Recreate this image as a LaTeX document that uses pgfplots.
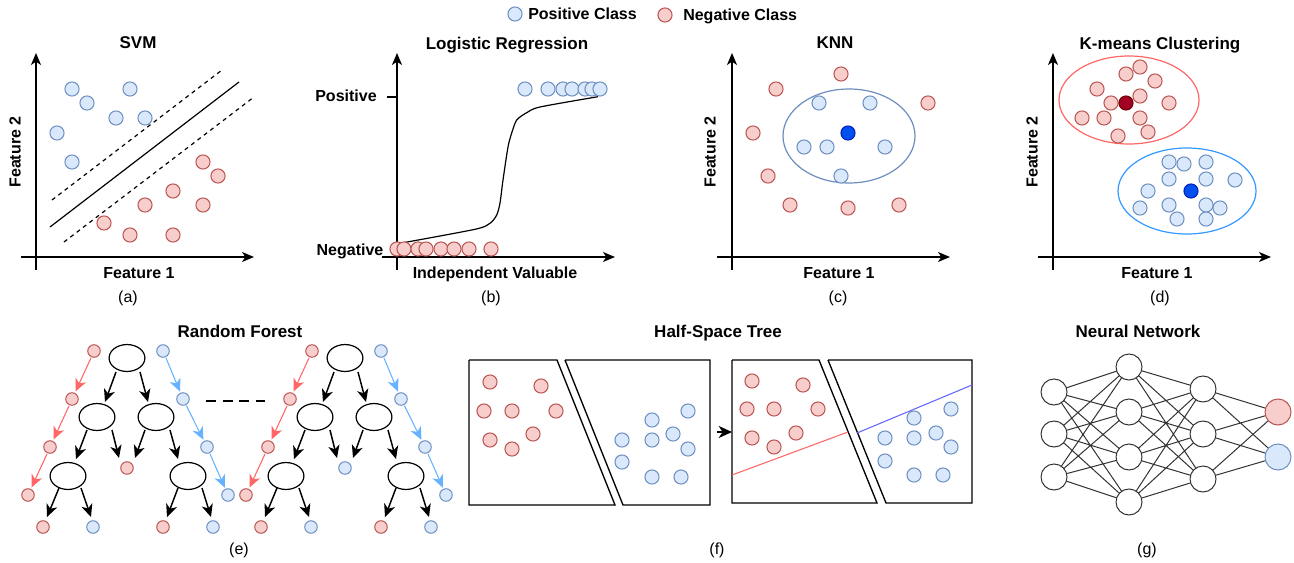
\documentclass[border=0pt]{standalone}
\usepackage{fontspec}
\setmainfont{Liberation Sans}
\usepackage{pgfplots}
\usepackage{pgfplotstable}
\pgfplotsset{compat=1.18}
\usetikzlibrary{arrows.meta}
\definecolor{rfill}{HTML}{F8CECC}
\definecolor{rdraw}{HTML}{B85450}
\definecolor{bfill}{HTML}{DAE8FC}
\definecolor{bdraw}{HTML}{6C8EBF}
\definecolor{dred}{HTML}{A20025}
\definecolor{dredd}{HTML}{6F0000}
\definecolor{dblue}{HTML}{0050EF}
\definecolor{dblued}{HTML}{001DBC}
\definecolor{lred}{HTML}{FF6666}
\definecolor{lblue}{HTML}{66B2FF}
\definecolor{kblue}{HTML}{3399FF}
\definecolor{hsblue}{HTML}{6666FF}
\definecolor{gr}{HTML}{333333}
\newcommand\tf{\fontsize{12.75}{15}\selectfont\bfseries}
\newcommand\lf{\fontsize{12}{14}\selectfont\bfseries}
\newcommand\cf{\fontsize{12}{14}\selectfont}
\tikzset{txt/.style={inner sep=0pt, text depth=0pt, anchor=center}}
\pgfplotsset{
  pos/.style={only marks, mark=*, mark size=5.3pt, mark options={fill=bfill, draw=bdraw, line width=0.75pt}},
  neg/.style={only marks, mark=*, mark size=5.3pt, mark options={fill=rfill, draw=rdraw, line width=0.75pt}},
  posS/.style={only marks, mark=*, mark size=4.7pt, mark options={fill=bfill, draw=bdraw, line width=0.75pt}},
  negS/.style={only marks, mark=*, mark size=4.7pt, mark options={fill=rfill, draw=rdraw, line width=0.75pt}},
  axarr/.style={black, line width=1pt, -{Stealth[length=9pt,width=7.5pt,inset=2.5pt]}},
  tnode/.style={only marks, mark=*, mark size=10.1pt, mark options={xscale=1.33, fill=white, draw=black, line width=0.9pt}},
  nnode/.style={only marks, mark=*, mark size=9.75pt, mark options={fill=white, draw=gr, line width=0.75pt}},
}
% one arrow: colour, width, x1, y1, x2, y2
\newcommand{\arr}[6]{\addplot[#1, line width=#2, -{Stealth[length=9.5pt,width=8.5pt,inset=2.8pt]}] coordinates {(#3,#4) (#5,#6)};}
\pgfplotstableread{
x y
127 358
97 417
156 417
68 476
188 476
345 358
315 417
374 417
286 476
406 476
}\rfnodes
\pgfplotstableread{
x y
94 351
72 399
50 447
28 495
43 527
163 527
127 468
312 351
290 399
268 447
246 495
261 527
381 527
}\rfredleaf
\pgfplotstableread{
x y
163 351
183 399
207 447
228 495
93 527
213 527
381 351
401 399
425 447
446 495
311 527
431 527
345 468
}\rfblueleaf
\begin{document}
\begin{tikzpicture}
\begin{axis}[x=0.75pt, y=0.75pt, y dir=reverse, xmin=0, xmax=1294, ymin=0, ymax=563,
  hide axis, clip=false, unbounded coords=jump]

% ---------- legend ----------
\addplot[pos] coordinates {(515,14)};
\node[txt, anchor=west] at (axis cs:528,14) {\lf Positive Class};
\addplot[neg] coordinates {(665,15)};
\node[txt, anchor=west] at (axis cs:683,15) {\lf Negative Class};

% ---------- (a) SVM ----------
\node[txt] at (axis cs:138,43) {\tf SVM};
\addplot[axarr] coordinates {(36,270) (36,53)};
\addplot[axarr] coordinates {(21,257) (254,257)};
\addplot[black, line width=0.9pt] coordinates {(50,227) (239,82)};
\addplot[black, line width=0.9pt, dash pattern=on 3pt off 3pt] coordinates {(52,200) (222,70)};
\addplot[black, line width=0.9pt, dash pattern=on 3pt off 3pt] coordinates {(64,242) (254,97)};
\addplot[pos] coordinates {(72,89) (87,103) (130,89) (116,118) (145,118) (57,133) (72,162)};
\addplot[neg] coordinates {(203,162) (218,176) (173,191) (145,205) (203,205) (104,223) (130,235) (173,235)};
\node[txt] at (axis cs:139,273) {\lf Feature 1};
\node[txt, rotate=90] at (axis cs:15,152) {\lf Feature 2};
\node[txt] at (axis cs:128,297) {\cf (a)};

% ---------- (b) Logistic regression ----------
\node[txt] at (axis cs:507,43) {\tf Logistic Regression};
\addplot[axarr] coordinates {(397,270) (397,53)};
\addplot[axarr] coordinates {(382,257) (615,257)};
\addplot[black, line width=0.9pt] coordinates {(387,97) (397,97)};
\addplot[pos] coordinates {(525,89) (548,89) (563,89) (572,89) (585,89) (592,89) (600,89)};
\addplot[neg] coordinates {(397,249) (404,249) (418,249) (426,249) (441,249) (454,249) (469,249) (491,249)};
\addplot[black, line width=0.9pt, smooth, tension=0.45] coordinates {(400,243.3) (475,229.3) (490,223.3) (496.7,215) (500,203) (503,180) (508,147) (511.7,133) (516.7,120) (526.7,112.7) (540,107) (598,96.7)};
\node[txt] at (axis cs:346,96) {\lf Positive};
\node[txt] at (axis cs:350,250) {\lf Negative};
\node[txt] at (axis cs:495,273) {\lf Independent Valuable};
\node[txt] at (axis cs:491,297) {\cf (b)};

% ---------- (c) KNN ----------
\node[txt] at (axis cs:835,43) {\tf KNN};
\addplot[axarr] coordinates {(732,270) (732,53)};
\addplot[axarr] coordinates {(717,257) (950,257)};
\draw[bdraw, line width=0.9pt] (axis cs:849,136) ellipse [x radius=66, y radius=47];
\addplot[neg] coordinates {(841,74) (776,89) (928,103) (753,133) (768,176) (790,205) (848,208) (899,205)};
\addplot[pos] coordinates {(819,103) (870,103) (804,147) (827,147) (885,147) (841,176)};
\addplot[only marks, mark=*, mark size=5.3pt, mark options={fill=dblue, draw=dblued, line width=0.75pt}] coordinates {(848,133)};
\node[txt] at (axis cs:839,273) {\lf Feature 1};
\node[txt, rotate=90] at (axis cs:710,152) {\lf Feature 2};
\node[txt] at (axis cs:838,297) {\cf (c)};

% ---------- (d) K-means ----------
\node[txt] at (axis cs:1160,43) {\tf K-means Clustering};
\addplot[axarr] coordinates {(1053,270) (1053,53)};
\addplot[axarr] coordinates {(1038,257) (1271,257)};
\draw[lred, line width=0.9pt] (axis cs:1129,100) ellipse [x radius=70, y radius=44];
\draw[kblue, line width=0.9pt] (axis cs:1187,191) ellipse [x radius=69, y radius=43];
\addplot[neg] coordinates {(1140,67) (1126,74) (1155,81) (1097,89) (1140,96) (1111,103) (1169,103) (1082,118) (1104,118) (1140,118) (1148,132) (1118,136)};
\addplot[only marks, mark=*, mark size=5.3pt, mark options={fill=dred, draw=dredd, line width=0.75pt}] coordinates {(1126,103)};
\addplot[pos] coordinates {(1169,162) (1184,164) (1206,162) (1169,179) (1206,179) (1235,180) (1148,191) (1140,208) (1169,205) (1206,205) (1220,208) (1177,219) (1206,219)};
\addplot[only marks, mark=*, mark size=5.3pt, mark options={fill=dblue, draw=dblued, line width=0.75pt}] coordinates {(1191,191)};
\node[txt] at (axis cs:1157,273) {\lf Feature 1};
\node[txt, rotate=90] at (axis cs:1032,152) {\lf Feature 2};
\node[txt] at (axis cs:1160,297) {\cf (d)};

% ---------- (e) Random forest ----------
\node[txt] at (axis cs:240,331) {\tf Random Forest};
% tree 1
\arr{black}{1.1pt}{116}{372}{105}{402}
\arr{black}{1.1pt}{140}{372}{148}{402}
\arr{black}{1.1pt}{87}{430}{76}{459}
\arr{black}{1.1pt}{112}{430}{119}{458}
\arr{black}{1.1pt}{145}{430}{135}{458}
\arr{black}{1.1pt}{170}{430}{178}{459}
\arr{black}{1.1pt}{59}{488}{47}{517}
\arr{black}{1.1pt}{81}{488}{91}{517}
\arr{black}{1.1pt}{178}{488}{167}{517}
\arr{black}{1.1pt}{202}{488}{211}{517}
\arr{lred}{0.8pt}{91}{358}{75.5}{391.5}
\arr{lred}{0.8pt}{69}{406}{53.5}{439.5}
\arr{lred}{0.8pt}{47}{454}{31.5}{487.5}
\arr{lblue}{0.8pt}{166}{358}{180}{391.6}
\arr{lblue}{0.8pt}{186.4}{405.7}{203.4}{439.8}
\arr{lblue}{0.8pt}{210}{453.9}{224.8}{487.7}
% tree 2
\arr{black}{1.1pt}{334}{372}{323}{402}
\arr{black}{1.1pt}{358}{372}{366}{402}
\arr{black}{1.1pt}{305}{430}{294}{459}
\arr{black}{1.1pt}{330}{430}{337}{458}
\arr{black}{1.1pt}{363}{430}{353}{458}
\arr{black}{1.1pt}{388}{430}{396}{459}
\arr{black}{1.1pt}{277}{488}{265}{517}
\arr{black}{1.1pt}{299}{488}{309}{517}
\arr{black}{1.1pt}{396}{488}{385}{517}
\arr{black}{1.1pt}{420}{488}{429}{517}
\arr{lred}{0.8pt}{309}{358}{293.5}{391.5}
\arr{lred}{0.8pt}{287}{406}{271.5}{439.5}
\arr{lred}{0.8pt}{265}{454}{249.5}{487.5}
\arr{lblue}{0.8pt}{384}{358}{398}{391.6}
\arr{lblue}{0.8pt}{404.4}{405.7}{421.4}{439.8}
\arr{lblue}{0.8pt}{428}{453.9}{442.8}{487.7}
\addplot[tnode] table {\rfnodes};
\addplot[negS] table {\rfredleaf};
\addplot[posS] table {\rfblueleaf};
\addplot[black, line width=2pt, dash pattern=on 7.5pt off 5pt] coordinates {(206,401) (265,401)};
\node[txt] at (axis cs:239,549) {\cf (e)};

% ---------- (f) Half-space tree ----------
\node[txt] at (axis cs:718,331) {\tf Half-Space Tree};
\addplot[black, line width=1pt] coordinates {(469,360) (557,360) (615,505) (469,505) (469,360)};
\addplot[black, line width=1pt] coordinates {(565,360) (710,360) (710,505) (623,505) (565,360)};
\addplot[black, line width=1pt] coordinates {(732,360) (819,360) (877,503) (732,503) (732,360)};
\addplot[black, line width=1pt] coordinates {(828,360) (972,360) (972,503) (886,503) (828,360)};
\addplot[neg] coordinates {(490,382) (541,386) (484,411) (512,411) (556,411) (533,434) (490,440) (512,449)};
\addplot[pos] coordinates {(652,420) (688,411) (622,440) (652,440) (673,434) (688,449) (622,462) (652,477) (681,477)};
\addplot[black, line width=0.8pt, -{Stealth[length=10pt,width=9pt,inset=3pt]}] coordinates {(717,432) (732,432)};
\addplot[lred, line width=0.8pt] coordinates {(732,475) (848,432)};
\addplot[hsblue, line width=0.8pt] coordinates {(857,433) (972,385)};
\addplot[neg] coordinates {(752,381) (803,385) (747,409) (774,409) (818,409) (796,433) (752,438) (774,447)};
\addplot[pos] coordinates {(914,418) (951,409) (885,438) (914,438) (936,433) (951,447) (885,461) (914,475) (943,475)};
\node[txt] at (axis cs:717,549) {\cf (f)};

% ---------- (g) Neural network ----------
\node[txt] at (axis cs:1138,331) {\tf Neural Network};
\addplot[gr, line width=0.75pt] coordinates {
(1054,392)(1129,367) (nan,nan) (1054,392)(1129,412) (nan,nan) (1054,392)(1129,457) (nan,nan) (1054,392)(1129,502) (nan,nan)
(1054,434)(1129,367) (nan,nan) (1054,434)(1129,412) (nan,nan) (1054,434)(1129,457) (nan,nan) (1054,434)(1129,502) (nan,nan)
(1054,477)(1129,367) (nan,nan) (1054,477)(1129,412) (nan,nan) (1054,477)(1129,457) (nan,nan) (1054,477)(1129,502) (nan,nan)
(1129,367)(1203,389) (nan,nan) (1129,367)(1203,434) (nan,nan) (1129,367)(1203,479) (nan,nan)
(1129,412)(1203,389) (nan,nan) (1129,412)(1203,434) (nan,nan) (1129,412)(1203,479) (nan,nan)
(1129,457)(1203,389) (nan,nan) (1129,457)(1203,434) (nan,nan) (1129,457)(1203,479) (nan,nan)
(1129,502)(1203,389) (nan,nan) (1129,502)(1203,434) (nan,nan) (1129,502)(1203,479) (nan,nan)
(1203,389)(1278,412) (nan,nan) (1203,389)(1278,457) (nan,nan)
(1203,434)(1278,412) (nan,nan) (1203,434)(1278,457) (nan,nan)
(1203,479)(1278,412) (nan,nan) (1203,479)(1278,457)
};
\addplot[nnode] coordinates {(1054,392) (1054,434) (1054,477) (1129,367) (1129,412) (1129,457) (1129,502) (1203,389) (1203,434) (1203,479)};
\addplot[only marks, mark=*, mark size=9.75pt, mark options={fill=rfill, draw=rdraw, line width=0.75pt}] coordinates {(1278,412)};
\addplot[only marks, mark=*, mark size=9.75pt, mark options={fill=bfill, draw=bdraw, line width=0.75pt}] coordinates {(1278,457)};
\node[txt] at (axis cs:1147,549) {\cf (g)};
\end{axis}
\pgfresetboundingbox
\path (current axis.south west) rectangle (current axis.north east);
\end{tikzpicture}
\end{document}
